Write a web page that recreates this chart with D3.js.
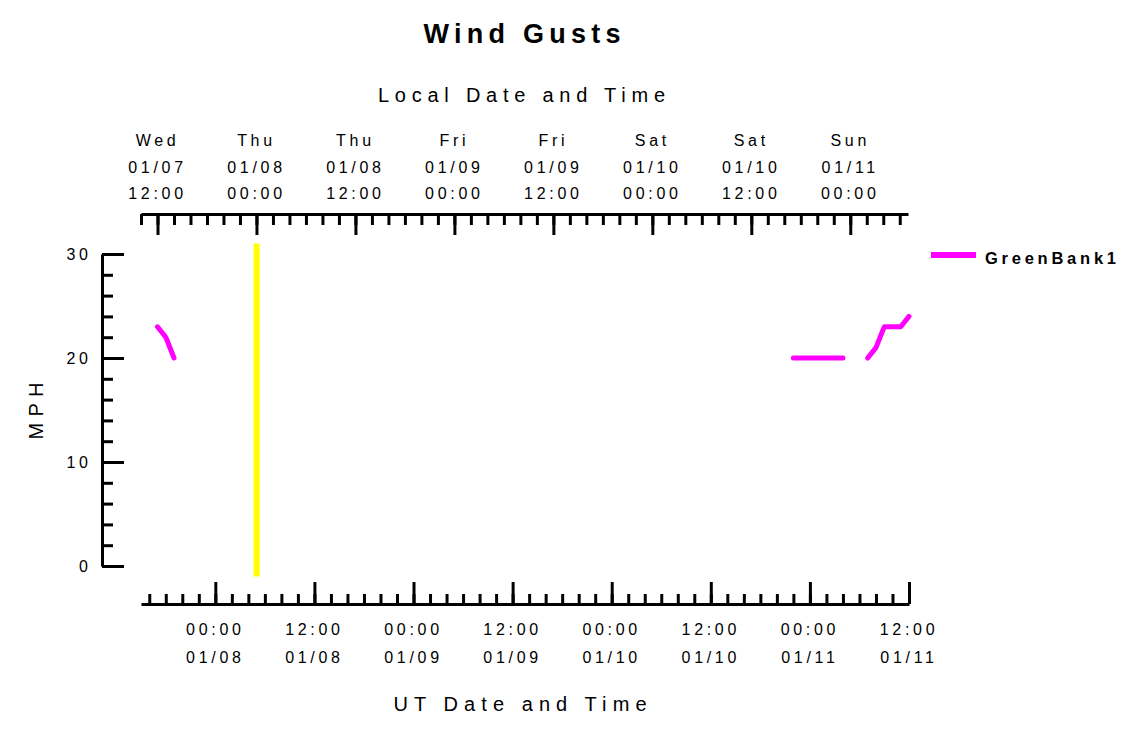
<!DOCTYPE html>
<html><head><meta charset="utf-8">
<script src="https://cdn.jsdelivr.net/npm/d3@7"></script>
<style>
body{margin:0;background:#fff;}
svg text{font-family:"Liberation Sans",Arial,Helvetica,sans-serif;fill:#000;}
</style></head><body>
<svg id="chart" width="1125" height="731"></svg>
<script>
// ---------- data ----------
const chartTitle = "Wind Gusts";
const topAxisTitle = "Local Date and Time";
const bottomAxisTitle = "UT Date and Time";
const yAxisTitle = "MPH";
const seriesName = "GreenBank1";
const domainUT = ["2015-01-07T15:00Z", "2015-01-11T12:00Z"];
const localOffsetHours = -5;
const yDomain = [0, 30];
const gustTimesUT = [
  "2015-01-07T17:00Z","2015-01-07T18:00Z","2015-01-07T19:00Z","2015-01-07T20:00Z",
  "2015-01-10T21:00Z","2015-01-10T22:00Z","2015-01-10T23:00Z","2015-01-11T00:00Z",
  "2015-01-11T01:00Z","2015-01-11T02:00Z","2015-01-11T03:00Z","2015-01-11T04:00Z",
  "2015-01-11T05:00Z","2015-01-11T06:00Z","2015-01-11T07:00Z","2015-01-11T08:00Z",
  "2015-01-11T09:00Z","2015-01-11T10:00Z","2015-01-11T11:00Z","2015-01-11T12:00Z"
];
const gustValues = [
  23, 22, 20, null,
  null, 20, 20, 20,
  20, 20, 20, 20,
  null, null, 20, 21,
  23, 23, 23, 24
];
const markerTimeUT = "2015-01-08T05:00Z";
const markerRange = [-1, 31];

// ---------- setup ----------
const svg = d3.select("#chart");
const xUT = d3.scaleUtc().domain(domainUT.map(s => new Date(s))).range([141, 909]);
const xLocal = d3.scaleUtc().domain(xUT.domain().map(d => d3.utcHour.offset(d, localOffsetHours))).range([141, 908]);
const y = d3.scaleLinear().domain(yDomain).range([566, 254]);

function styleAxis(g) {
  g.selectAll("path.domain").attr("stroke", "#000").attr("stroke-width", 3);
  g.selectAll(".tick line").attr("stroke", "#000").attr("stroke-width", 3);
  g.selectAll(".tick text").remove();
}
const LS = 3.7;
function label(x, yy, txt, size, weight, anchor) {
  const ls = LS;
  const dx = anchor === "end" ? ls : 0;
  svg.append("text").attr("x", x + dx).attr("y", yy).attr("text-anchor", anchor || "middle")
    .attr("font-size", size).attr("font-weight", weight || "normal")
    .style("letter-spacing", ls + "px").text(txt);
}

// ---------- bottom (UT) axis ----------
const gb1 = svg.append("g").attr("transform", "translate(0,604)")
  .call(d3.axisBottom(xUT).ticks(d3.utcHour.every(2)).tickSize(-10).tickSizeOuter(0).tickFormat(""));
styleAxis(gb1);
const gb2 = svg.append("g").attr("transform", "translate(0,604)")
  .call(d3.axisBottom(xUT).ticks(d3.utcHour.every(12)).tickSize(-22).tickSizeOuter(0).tickFormat(""));
styleAxis(gb2); gb2.select("path.domain").remove();
const fTime = d3.utcFormat("%H:%M"), fDate = d3.utcFormat("%m/%d"), fDay = d3.utcFormat("%a");
xUT.ticks(d3.utcHour.every(12)).forEach(d => {
  label(xUT(d), 635, fTime(d), 16);
  label(xUT(d), 663, fDate(d), 16);
});

// ---------- top (local) axis ----------
const gt1 = svg.append("g").attr("transform", "translate(0,214)")
  .call(d3.axisTop(xLocal).ticks(d3.utcHour.every(2)).tickSize(-11).tickSizeOuter(0).tickFormat(""));
styleAxis(gt1);
const gt2 = svg.append("g").attr("transform", "translate(0,214)")
  .call(d3.axisTop(xLocal).ticks(d3.utcHour.every(12)).tickSize(-21).tickSizeOuter(0).tickFormat(""));
styleAxis(gt2); gt2.select("path.domain").remove();
xLocal.ticks(d3.utcHour.every(12)).forEach(d => {
  label(xLocal(d), 146, fDay(d), 16);
  label(xLocal(d), 173, fDate(d), 16);
  label(xLocal(d), 199, fTime(d), 16);
});

// ---------- y axis ----------
const gy1 = svg.append("g").attr("transform", "translate(102,0)")
  .call(d3.axisLeft(y).tickValues(d3.range(yDomain[0], yDomain[1] + 1, 2)).tickSize(-11).tickSizeOuter(0).tickFormat(""));
styleAxis(gy1);
const gy2 = svg.append("g").attr("transform", "translate(102,0)")
  .call(d3.axisLeft(y).tickValues(d3.range(yDomain[0], yDomain[1] + 1, 10)).tickSize(-22).tickSizeOuter(0).tickFormat(""));
styleAxis(gy2); gy2.select("path.domain").remove();
d3.range(yDomain[0], yDomain[1] + 1, 10).forEach(v => {
  label(88, y(v) + 6, String(v), 16, "normal", "end");
});

// ---------- titles ----------
svg.append("text").attr("x", 522).attr("y", 43).attr("text-anchor", "middle")
  .attr("font-size", 27).attr("font-weight", "bold")
  .attr("textLength", 197).attr("lengthAdjust", "spacing").text(chartTitle);
svg.append("text").attr("x", 521.5).attr("y", 102).attr("text-anchor", "middle")
  .attr("font-size", 20).attr("textLength", 287).attr("lengthAdjust", "spacing").text(topAxisTitle);
svg.append("text").attr("x", 520).attr("y", 711).attr("text-anchor", "middle")
  .attr("font-size", 20).attr("textLength", 253).attr("lengthAdjust", "spacing").text(bottomAxisTitle);
svg.append("text").attr("transform", "translate(43,411) rotate(-90)").attr("text-anchor", "middle")
  .attr("font-size", 20).attr("textLength", 57).attr("lengthAdjust", "spacing").text(yAxisTitle);

// ---------- marker ----------
svg.append("line")
  .attr("x1", xUT(new Date(markerTimeUT))).attr("x2", xUT(new Date(markerTimeUT)))
  .attr("y1", y(markerRange[1])).attr("y2", y(markerRange[0]))
  .attr("stroke", "#ffff00").attr("stroke-width", 6);

// ---------- series ----------
const data = gustTimesUT.map((t, i) => ({ t: new Date(t), v: gustValues[i] }));
const line = d3.line().defined(d => d.v != null).x(d => xUT(d.t)).y(d => y(d.v));
svg.append("path").datum(data).attr("d", line)
  .attr("fill", "none").attr("stroke", "#ff00ff").attr("stroke-width", 5)
  .attr("stroke-linejoin", "round").attr("stroke-linecap", "round");

// ---------- legend ----------
svg.append("line").attr("x1", 931).attr("x2", 976).attr("y1", 255).attr("y2", 255)
  .attr("stroke", "#ff00ff").attr("stroke-width", 6);
svg.append("text").attr("x", 985).attr("y", 264).attr("font-size", 16.5).attr("font-weight", "bold")
  .attr("textLength", 131).attr("lengthAdjust", "spacing").text(seriesName);
</script></body></html>
